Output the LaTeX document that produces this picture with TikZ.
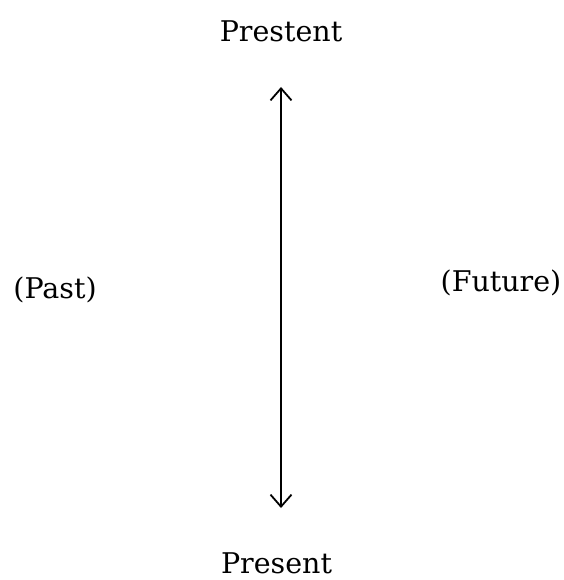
\documentclass[tikz,border=0pt]{standalone}
\usepackage{fontspec}
\setmainfont{DejaVu Serif}
\usetikzlibrary{arrows.meta}
\tikzset{
  lbl/.style={inner sep=0pt, anchor=base, font=\fontsize{28.5}{34}\selectfont},
  timeline/.style={line width=1.8pt, {Straight Barb[length=12pt,width=21pt,line width=1.8pt]}-{Straight Barb[length=12pt,width=21pt,line width=1.8pt]}}
}
\begin{document}
\begin{tikzpicture}[x=1pt,y=-1pt]
\useasboundingbox (0,0) rectangle (563,580);
\node[lbl] (top) at (281,42) {Prestent};
\node[lbl] (bot) at (276.5,573) {Present};
\node[lbl] (past) at (55,298) {(Past)};
\node[lbl] (future) at (501,291) {(Future)};
\coordinate (a) at (281,87);
\coordinate (b) at (281,508);
\draw[timeline] (a) -- (b);
\end{tikzpicture}
\end{document}
